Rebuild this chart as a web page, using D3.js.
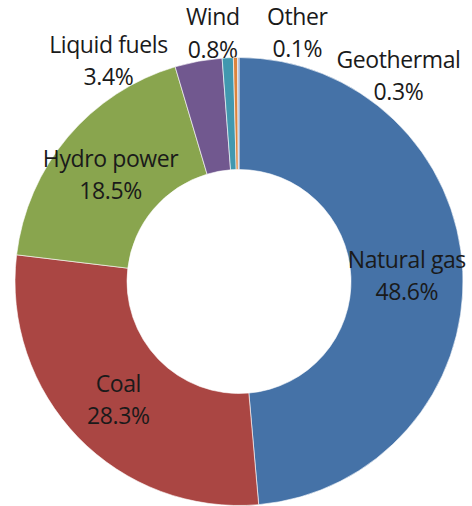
<!DOCTYPE html>
<html>

<head>
    <meta charset="UTF-8">
    <title>Electricity generation by source</title>
    <script src="https://d3js.org/d3.v7.min.js"></script>
    <style>
        body { margin: 0; background: #fff; }
        text { font-family: "Open Sans", Lato, sans-serif; font-size: 23px; fill: #1a1a1a; letter-spacing: -0.4px; }
    </style>
</head>

<body>
    <div id="donut"></div>
    <script type="text/javascript">
        // data
        const sources = ["Natural gas", "Coal", "Hydro power", "Liquid fuels", "Wind", "Geothermal", "Other"];
        const shares = [48.6, 28.3, 18.5, 3.4, 0.8, 0.3, 0.1];
        const colors = ["#4572A7", "#AA4643", "#89A54E", "#71588F", "#4198AF", "#DB843D", "#93A9CF"];

        const width = 472;
        const height = 506;
        const cx = 239, cy = 281.5;
        const outerRadius = 224;
        const innerRadius = 112;

        // small slices get their labels pushed outside, like Excel's best fit
        const outsideNudge = {
            "Liquid fuels": [-90, -2],
            "Wind": [-15, -26],
            "Geothermal": [163, 17],
            "Other": [59, -26]
        };

        const dataset = sources.map(function (s, i) {
            return { name: s, value: shares[i], color: colors[i] };
        });

        const svg = d3.select("#donut")
            .append("svg")
            .attr("width", width)
            .attr("height", height);

        const vis = svg.append("g")
            .attr("transform", "translate(" + cx + "," + cy + ")");

        const pie = d3.pie().sort(null).value(function (d) { return d.value; });
        const arc = d3.arc().innerRadius(innerRadius).outerRadius(outerRadius);
        const edge = d3.arc().innerRadius(outerRadius).outerRadius(outerRadius);

        const arcs = vis.selectAll("g.slice")
            .data(pie(dataset))
            .enter()
            .append("g")
            .attr("class", "slice");

        arcs.append("path")
            .attr("d", arc)
            .attr("fill", function (d) { return d.data.color; })
            .attr("stroke", "#fff")
            .attr("stroke-width", 0.6);

        const labels = arcs.append("text")
            .attr("text-anchor", "middle")
            .attr("transform", function (d) {
                let p;
                const n = outsideNudge[d.data.name];
                if (n) {
                    p = edge.centroid(d);
                    p = [p[0] + n[0], p[1] + n[1]];
                } else {
                    p = arc.centroid(d);
                }
                return "translate(" + p + ")";
            });

        labels.append("tspan")
            .attr("x", 0)
            .attr("dy", "-0.28em")
            .text(function (d) { return d.data.name; });
        labels.append("tspan")
            .attr("x", 0)
            .attr("dy", "1.4em")
            .text(function (d) { return d.data.value.toFixed(1) + "%"; });
    </script>
</body>

</html>
